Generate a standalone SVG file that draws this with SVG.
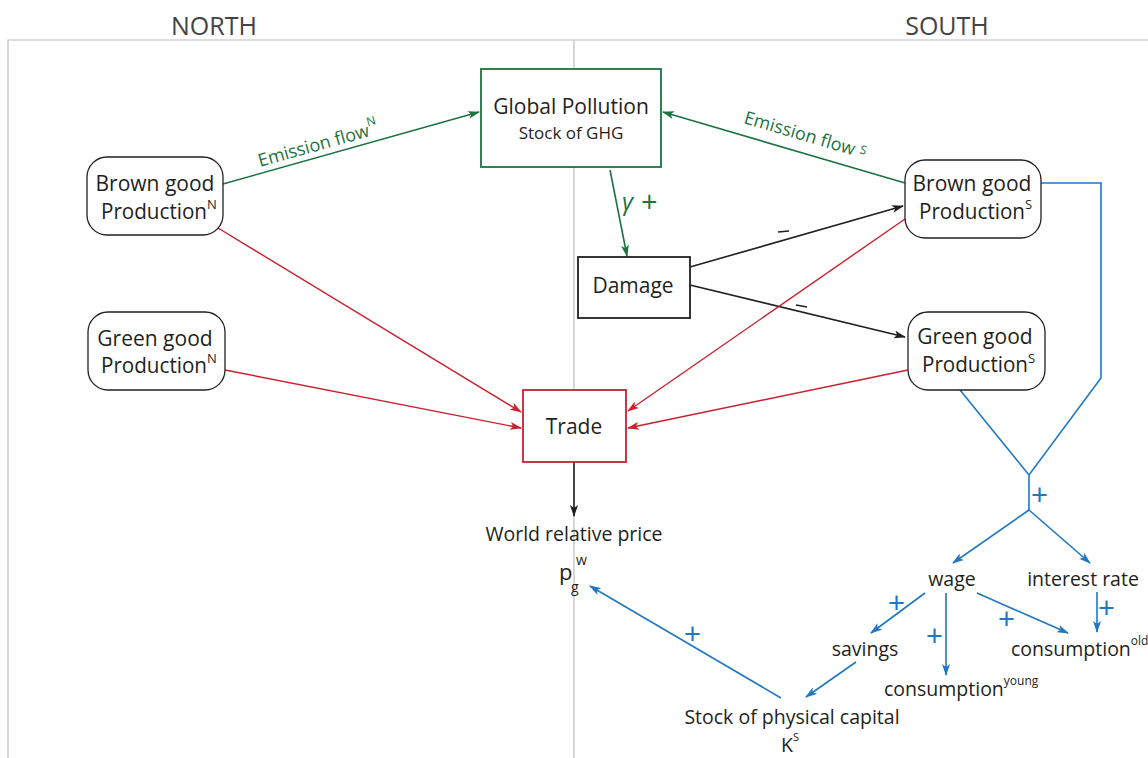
<svg xmlns="http://www.w3.org/2000/svg" width="1148" height="758" viewBox="0 0 1148 758">
<style>
text{font-family:"Open Sans","Noto Sans",sans-serif;fill:#231f20}
.hdr{font-size:25px;fill:#444;text-anchor:middle}
.nd{font-size:21px;text-anchor:middle}
.pr{font-size:21px}
.sub{font-size:13px}
.frame{stroke:#bdbdbd;stroke-width:1.2;fill:none}
.rr{fill:#fff;stroke:#231f20;stroke-width:1.3}
.g{stroke:#1b7340;stroke-width:1.6;fill:none}
.r{stroke:#c8202f;stroke-width:1.4;fill:none}
.k{stroke:#231f20;stroke-width:1.6;fill:none}
.b{stroke:#1f78c1;stroke-width:1.6;fill:none}
.gt{fill:#1b7340}
.bt{fill:#1f78c1;font-size:29px;font-family:"Liberation Sans",sans-serif}
.lbl{font-size:19.5px;text-anchor:middle}
</style>
<defs>
<marker id="ag" viewBox="0 0 12 8" refX="11" refY="4" markerWidth="12" markerHeight="8" markerUnits="userSpaceOnUse" orient="auto"><path d="M0,0 L12,4 L0,8 L3,4 Z" fill="#1b7340"/></marker>
<marker id="ar" viewBox="0 0 12 8" refX="11" refY="4" markerWidth="12" markerHeight="8" markerUnits="userSpaceOnUse" orient="auto"><path d="M0,0 L12,4 L0,8 L3,4 Z" fill="#c8202f"/></marker>
<marker id="ak" viewBox="0 0 12 8" refX="11" refY="4" markerWidth="12" markerHeight="8" markerUnits="userSpaceOnUse" orient="auto"><path d="M0,0 L12,4 L0,8 L3,4 Z" fill="#231f20"/></marker>
<marker id="ab" viewBox="0 0 12 8" refX="11" refY="4" markerWidth="12" markerHeight="8" markerUnits="userSpaceOnUse" orient="auto"><path d="M0,0 L12,4 L0,8 L3,4 Z" fill="#1f78c1"/></marker>
</defs>
<rect width="1148" height="758" fill="#fff"/>
<g id="frame">
<path class="frame" d="M8,758 V40 H1148 M574,40 V758"/>
<text class="hdr" x="214" y="35">NORTH</text>
<text class="hdr" x="947" y="35">SOUTH</text>
</g>
<g id="connectors">
<line class="g" x1="223" y1="184" x2="479" y2="112" marker-end="url(#ag)"/>
<text class="gt" font-size="18" transform="translate(260,167) rotate(-15.7)">Emission flow<tspan font-size="12" dy="-10">N</tspan></text>
<line class="g" x1="905" y1="183" x2="663" y2="112" marker-end="url(#ag)"/>
<text class="gt" font-size="18" transform="translate(743,123) rotate(16.4)">Emission flow<tspan font-size="12" dx="5" dy="-4">S</tspan></text>
<line class="g" x1="610" y1="170" x2="627" y2="256" marker-end="url(#ag)"/>
<text class="gt" font-size="24" x="622" y="210" font-family="Liberation Serif,serif" font-style="italic">γ</text>
<text class="gt" font-size="29" x="641" y="212" font-family="Liberation Sans,sans-serif">+</text>
<line class="k" x1="690" y1="267" x2="903" y2="206" marker-end="url(#ak)"/>
<line class="k" x1="778" y1="232" x2="789" y2="231"/>
<line class="k" x1="690" y1="285" x2="905" y2="337" marker-end="url(#ak)"/>
<line class="k" x1="796" y1="305" x2="807" y2="307"/>
<line class="r" x1="218" y1="228" x2="521" y2="412" marker-end="url(#ar)"/>
<line class="r" x1="225" y1="370" x2="521" y2="428" marker-end="url(#ar)"/>
<line class="r" x1="905" y1="219" x2="628" y2="411" marker-end="url(#ar)"/>
<line class="r" x1="908" y1="370" x2="628" y2="428" marker-end="url(#ar)"/>
<line class="k" x1="574" y1="462" x2="574" y2="516" marker-end="url(#ak)"/>
<path class="b" d="M1041,183 H1101 V378 L1029,475 L960,390 M1029,475 V510"/>
<text class="bt" x="1031" y="505">+</text>
<line class="b" x1="1029" y1="510" x2="953" y2="563" marker-end="url(#ab)"/>
<line class="b" x1="1029" y1="510" x2="1090" y2="563" marker-end="url(#ab)"/>
<line class="b" x1="925" y1="593" x2="871" y2="633" marker-end="url(#ab)"/>
<text class="bt" x="888" y="613">+</text>
<line class="b" x1="946" y1="593" x2="946" y2="675" marker-end="url(#ab)"/>
<text class="bt" x="926" y="646">+</text>
<line class="b" x1="977" y1="593" x2="1068" y2="633" marker-end="url(#ab)"/>
<text class="bt" x="998" y="629">+</text>
<line class="b" x1="1097" y1="592" x2="1097" y2="632" marker-end="url(#ab)"/>
<text class="bt" x="1098" y="618">+</text>
<line class="b" x1="856" y1="662" x2="806" y2="697" marker-end="url(#ab)"/>
<line class="b" x1="781" y1="698" x2="590" y2="586" marker-end="url(#ab)"/>
<text class="bt" x="684" y="644">+</text>
</g>
<g id="global-pollution">
<rect x="481" y="69" width="180" height="98" fill="#fff" stroke="#1b7340" stroke-width="1.8"/>
<text class="nd" x="571" y="114">Global Pollution</text>
<text x="571" y="139" font-size="17" text-anchor="middle">Stock of GHG</text>
</g>
<g id="brown-n">
<rect class="rr" x="87" y="157" width="136" height="78" rx="20"/>
<text class="nd" x="155" y="191">Brown good</text>
<text class="pr" x="101" y="219"><tspan textLength="106" lengthAdjust="spacingAndGlyphs">Production</tspan><tspan class="sub" dy="-10">N</tspan></text>
</g>
<g id="green-n">
<rect class="rr" x="88" y="312" width="137" height="78" rx="20"/>
<text class="nd" x="155" y="346">Green good</text>
<text class="pr" x="101" y="373"><tspan textLength="106" lengthAdjust="spacingAndGlyphs">Production</tspan><tspan class="sub" dy="-10">N</tspan></text>
</g>
<g id="brown-s">
<rect class="rr" x="905" y="160" width="136" height="78" rx="20"/>
<text class="nd" x="972" y="191">Brown good</text>
<text class="pr" x="919" y="219"><tspan textLength="106" lengthAdjust="spacingAndGlyphs">Production</tspan><tspan class="sub" dy="-10">S</tspan></text>
</g>
<g id="green-s">
<rect class="rr" x="908" y="312" width="137" height="78" rx="20"/>
<text class="nd" x="975" y="344">Green good</text>
<text class="pr" x="922" y="372"><tspan textLength="106" lengthAdjust="spacingAndGlyphs">Production</tspan><tspan class="sub" dy="-9">S</tspan></text>
</g>
<g id="damage">
<rect x="578" y="257" width="112" height="61" fill="#fff" stroke="#231f20" stroke-width="1.8"/>
<text class="nd" x="633" y="293">Damage</text>
</g>
<g id="trade">
<rect x="523" y="390" width="103" height="72" fill="#fff" stroke="#c8202f" stroke-width="1.8"/>
<text class="nd" x="574" y="434">Trade</text>
</g>
<g id="price">
<text class="lbl" x="574" y="541">World relative price</text>
<text font-size="22" x="559" y="580">p</text>
<text font-size="14" x="576" y="565">w</text>
<text font-size="14" x="571" y="592">g</text>
</g>
<g id="wage"><text class="lbl" x="952" y="586">wage</text></g>
<g id="interest"><text class="lbl" x="1083" y="586">interest rate</text></g>
<g id="savings"><text class="lbl" x="865" y="656">savings</text></g>
<g id="cons-young"><text font-size="19.5" x="884" y="696">consumption<tspan font-size="12" dy="-11">young</tspan></text></g>
<g id="cons-old"><text font-size="19.5" x="1011" y="656">consumption<tspan font-size="12" dy="-11">old</tspan></text></g>
<g id="capital">
<text class="lbl" x="792" y="724">Stock of physical capital</text>
<text font-size="19.5" x="781" y="752">K<tspan font-size="11" dy="-11">S</tspan></text>
</g>
</svg>
